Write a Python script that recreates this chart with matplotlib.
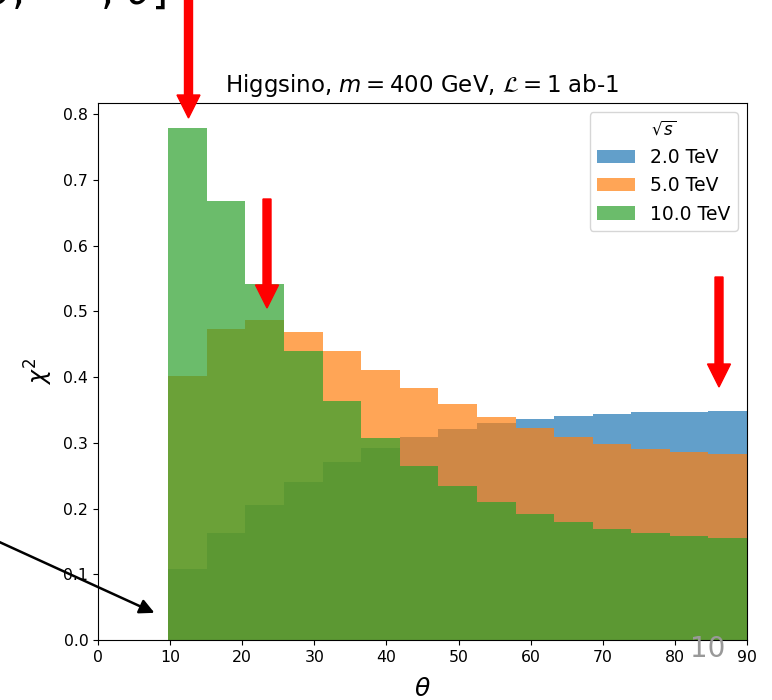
import numpy as np
import matplotlib
matplotlib.use("Agg")
import matplotlib.pyplot as plt
from matplotlib.patches import FancyArrow
from matplotlib.transforms import IdentityTransform

# bins in theta: 0.17 rad .. pi/2, 15 bins, shown in degrees
theta_edges = np.degrees(np.linspace(0.17, np.pi / 2, 16))
theta_centers = 0.5 * (theta_edges[:-1] + theta_edges[1:])

energies = ["2.0 TeV", "5.0 TeV", "10.0 TeV"]

chi2_2tev = [0.108, 0.162, 0.206, 0.241, 0.271, 0.292, 0.309, 0.321,
             0.330, 0.336, 0.341, 0.344, 0.347, 0.347, 0.348]
chi2_5tev = [0.402, 0.473, 0.486, 0.468, 0.440, 0.411, 0.383, 0.359,
             0.339, 0.322, 0.309, 0.298, 0.290, 0.286, 0.283]
chi2_10tev = [0.778, 0.668, 0.541, 0.440, 0.363, 0.307, 0.265, 0.234,
              0.210, 0.192, 0.179, 0.169, 0.163, 0.158, 0.155]

fig = plt.figure(figsize=(7.72, 7.0), dpi=100)
ax = fig.add_axes([0.127, 0.0857, 0.8406, 0.7673])

for vals, lab in zip([chi2_2tev, chi2_5tev, chi2_10tev], energies):
    ax.hist(theta_centers, bins=theta_edges, weights=vals, alpha=0.7, label=lab)

ax.set_xlim(0, 90)
ax.set_xticks(np.arange(0, 91, 10))
ax.tick_params(labelsize=11.3)
ax.set_xlabel(r"$\theta$", fontsize=18, labelpad=9)
ax.set_ylabel(r"$\chi^2$", fontsize=17, labelpad=6)
ax.set_title(r"Higgsino, $m = 400$ GeV, $\mathcal{L} = 1$ ab-1",
             fontsize=16.5, pad=8)
ax.legend(title=r"$\sqrt{s}$", loc="upper right", fontsize=13.5,
          title_fontsize=12)

# slide overlays: arrows, cut-off heading and page number
px = IdentityTransform()
for x0, y0, y1 in [(188.5, 705, 582), (267, 501, 392), (719, 423, 313)]:
    fig.add_artist(FancyArrow(x0, y0, 0, y1 - y0, width=8, head_width=23,
                              head_length=23, length_includes_head=True,
                              color="red", transform=px))

ax.annotate("", xy=(157, 86), xytext=(-5, 160), xycoords="figure pixels",
            textcoords="figure pixels", annotation_clip=False,
            arrowprops=dict(arrowstyle="-|>", color="black", lw=1.8,
                            mutation_scale=22))

fig.text(23, 696, r"$\theta$,", transform=px, fontsize=30,
         ha="right", va="baseline")
fig.text(167, 696, r", $\theta$]", transform=px, fontsize=30,
         ha="right", va="baseline")
fig.text(725, 37, "10", transform=px, fontsize=20, color="#999999",
         ha="right", va="bottom")

fig.savefig("out.png", dpi=100)
